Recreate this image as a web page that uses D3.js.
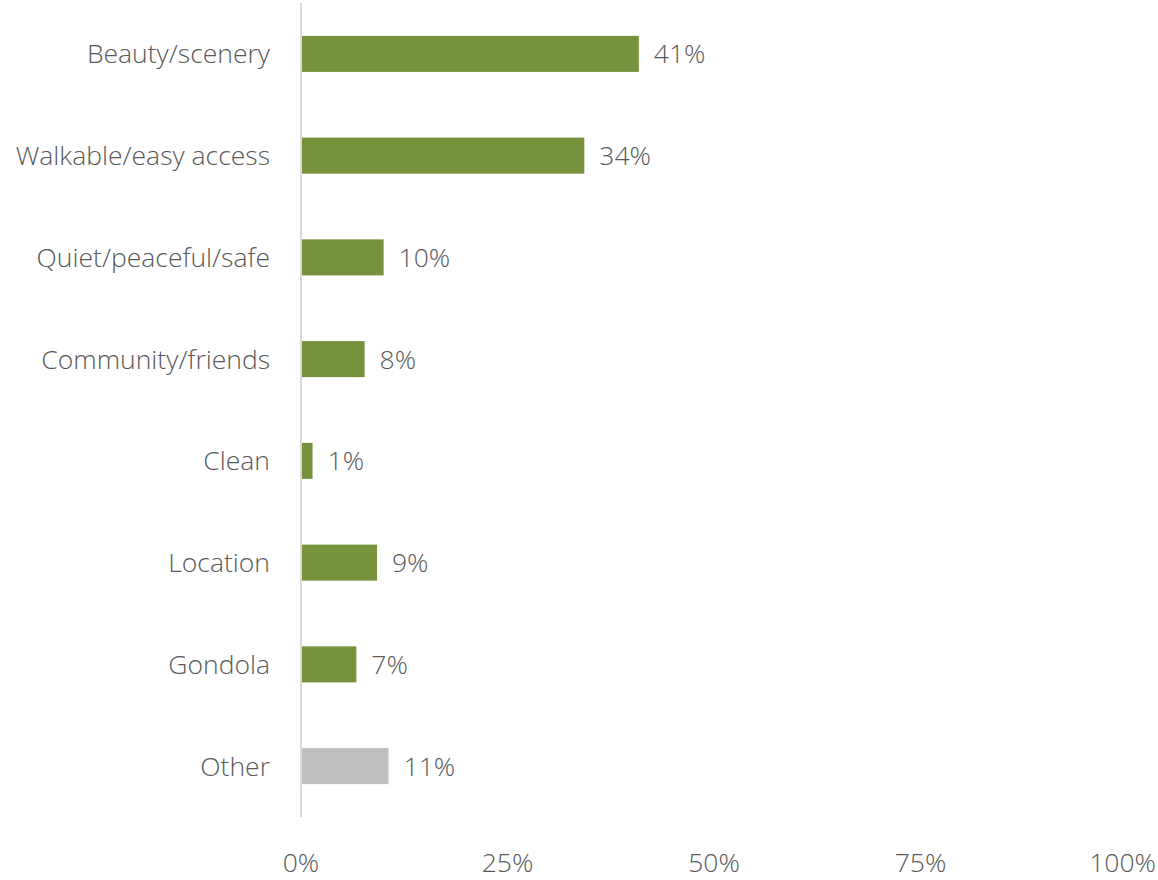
<!DOCTYPE html>
<html>
<head>
<meta charset="utf-8">
<script src="https://cdn.jsdelivr.net/npm/d3@7"></script>
<style>
body { margin: 0; background: #fff; }
text { font-family: "Open Sans", "Segoe UI", sans-serif; font-weight: 300; fill: #595959; }
</style>
</head>
<body>
<div id="chart"></div>
<script>
var categories = ["Beauty/scenery", "Walkable/easy access", "Quiet/peaceful/safe", "Community/friends", "Clean", "Location", "Gondola", "Other"]
var values = [40.9, 34.3, 10.0, 7.7, 1.4, 9.2, 6.7, 10.6]
var labels = ["41%", "34%", "10%", "8%", "1%", "9%", "7%", "11%"]
var ticks = [0, 25, 50, 75, 100]
var tickLabels = ["0%", "25%", "50%", "75%", "100%"]

var width = 1158
var height = 880
var svg = d3.select("#chart").append("svg").attr("width", width).attr("height", height)

var x = d3.scaleLinear().domain([0, 100]).range([301, 1127])
var y = d3.scaleBand().domain(categories).range([3, 817]).paddingInner(0.646).paddingOuter(0.323)

// bars
svg.selectAll(".bar").data(categories).enter().append("rect")
    .attr("class", "bar")
    .attr("x", x(0))
    .attr("y", function(d) { return y(d) })
    .attr("width", function(d, i) { return x(values[i]) - x(0) })
    .attr("height", y.bandwidth())
    .attr("fill", function(d) { return d == "Other" ? "#bfbfbf" : "#76923c" })

// value labels
svg.selectAll(".val").data(categories).enter().append("text")
    .attr("class", "val")
    .attr("x", function(d, i) { return x(values[i]) + 15 })
    .attr("y", function(d) { return y(d) + y.bandwidth() / 2 })
    .attr("dy", "0.36em")
    .style("font-size", "26.5px")
    .text(function(d, i) { return labels[i] })

// category labels
svg.selectAll(".cat").data(categories).enter().append("text")
    .attr("class", "cat")
    .attr("x", 270)
    .attr("y", function(d) { return y(d) + y.bandwidth() / 2 })
    .attr("dy", "0.36em")
    .attr("text-anchor", "end")
    .style("font-size", "26.5px")
    .text(function(d) { return d })

// vertical axis line
svg.append("line")
    .attr("x1", x(0)).attr("x2", x(0))
    .attr("y1", 3).attr("y2", 817)
    .attr("stroke", "#d9d9d9").attr("stroke-width", 2)

// x tick labels (last one kept inside the frame)
svg.selectAll(".tick").data(ticks).enter().append("text")
    .attr("class", "tick")
    .attr("x", function(d, i) { return i == ticks.length - 1 ? width - 2 : x(d) })
    .attr("y", 872)
    .attr("text-anchor", function(d, i) { return i == ticks.length - 1 ? "end" : "middle" })
    .style("font-size", "26.5px")
    .text(function(d, i) { return tickLabels[i] })
</script>
</body>
</html>
